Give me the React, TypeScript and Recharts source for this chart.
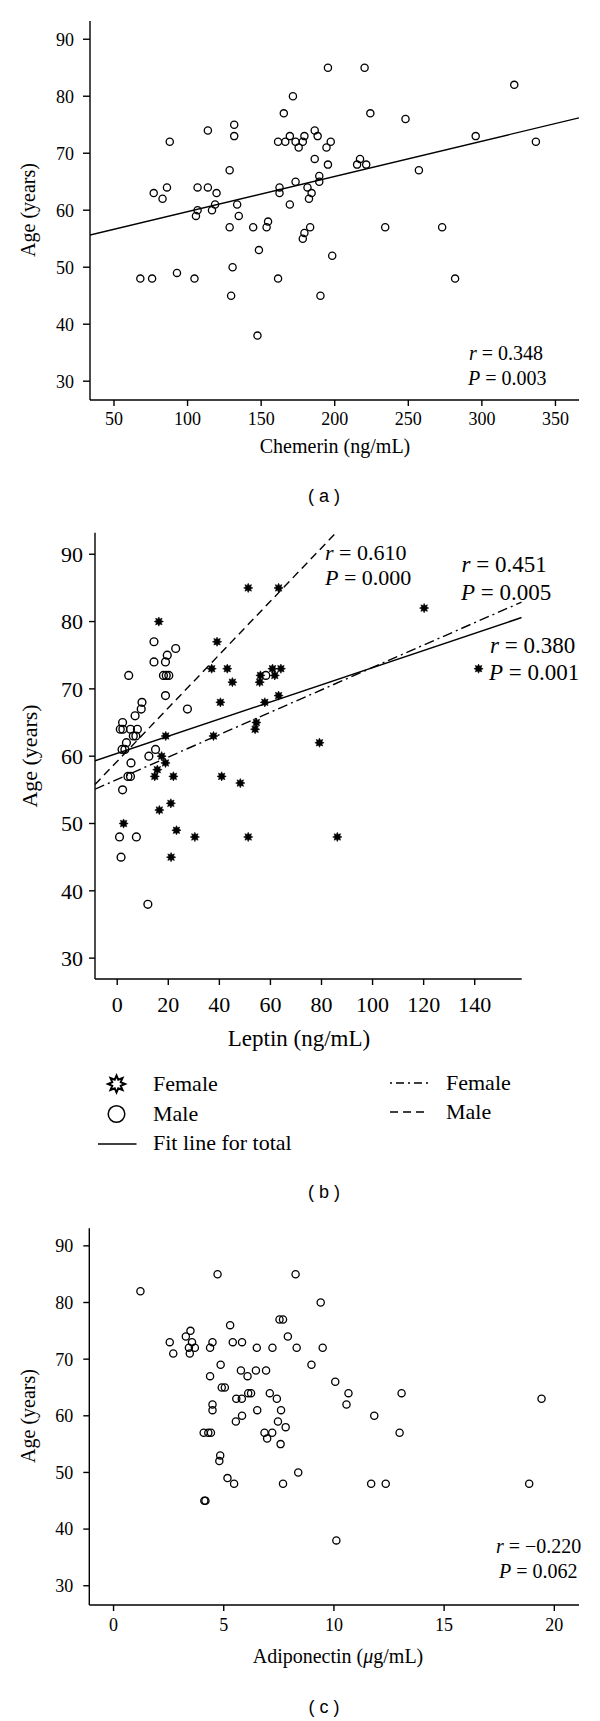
import React from "react";
import { ScatterChart, Scatter, XAxis, YAxis, ReferenceLine } from "recharts";

const serif = "'Liberation Serif', 'Times New Roman', serif";
const sans = "'Liberation Sans', Arial, sans-serif";

// ---------- Panel (a): Chemerin ----------
const chemerinX = [67.9, 75.9, 77, 83, 86, 87.9, 92.8, 104.7, 105.7, 106.8, 106.8, 113.8, 113.8, 116.6, 118.7, 119.7, 128.6, 128.6, 129.6, 130.6, 131.7, 131.7, 133.7, 134.8, 144.6, 148.5, 147.5, 153.7, 154.7, 161.5, 161.5, 162.5, 162.5, 165.4, 166.4, 169.5, 169.5, 171.6, 173.4, 173.4, 175.5, 178.3, 179.4, 178.3, 179.4, 181.5, 182.5, 183.3, 184.3, 186.4, 186.4, 188.4, 189.5, 189.5, 190.3, 194.4, 195.4, 195.4, 197.3, 198.3, 215.2, 217.2, 220.3, 221.4, 224.2, 234.3, 248.1, 257.2, 273, 281.8, 295.8, 322, 336.7];
const chemerinAge = [48, 48, 63, 62, 64, 72, 49, 48, 59, 60, 64, 74, 64, 60, 61, 63, 67, 57, 45, 50, 75, 73, 61, 59, 57, 53, 38, 57, 58, 72, 48, 64, 63, 77, 72, 73, 61, 80, 72, 65, 71, 55, 56, 72, 73, 64, 62, 57, 63, 74, 69, 73, 66, 65, 45, 71, 85, 68, 72, 52, 68, 69, 85, 68, 77, 57, 76, 67, 57, 48, 73, 82, 72];
const chemerinTicks = [50, 100, 150, 200, 250, 300, 350];
const chemerinDomain = [33.7, 366];
const fitChemerinX = [33.7, 366];
const fitChemerinY = [55.65, 76.2];

// ---------- Panel (b): Leptin ----------
const maleLeptin = [0.9, 1.5, 7.5, 2.1, 5.4, 4.2, 5.2, 1.9, 3.0, 3.6, 1.2, 2.2, 2.1, 5.2, 7.9, 6.3, 7.3, 7.0, 9.4, 9.7, 4.5, 12.4, 15.0, 14.4, 14.4, 18.9, 19.6, 18.1, 19.2, 20.2, 18.9, 22.9, 27.5, 58.2, 12.0];
const maleAge = [48, 45, 48, 55, 59, 57, 57, 61, 61, 62, 64, 64, 65, 64, 64, 63, 63, 66, 67, 68, 72, 60, 61, 74, 77, 74, 75, 72, 72, 72, 69, 76, 67, 72, 38];
const femaleLeptin = [16.3, 2.5, 14.7, 15.7, 17.4, 18.9, 19.0, 16.5, 21.0, 22.0, 23.2, 21.1, 30.4, 37.0, 37.7, 39.1, 40.4, 40.9, 43.1, 45.1, 48.2, 51.3, 51.3, 54.5, 54.0, 55.8, 56.1, 57.8, 60.8, 61.7, 63.2, 63.2, 64.1, 79.2, 86.2, 120.2, 141.5];
const femaleAge = [80, 50, 57, 58, 60, 59, 63, 52, 53, 57, 49, 45, 48, 73, 63, 77, 68, 57, 73, 71, 56, 85, 48, 65, 64, 71, 72, 68, 73, 72, 85, 69, 73, 62, 48, 82, 73];
const leptinTicks = [0, 20, 40, 60, 80, 100, 120, 140];
const leptinDomain = [-8.7, 158.4];
const fitTotalX = [-8.7, 158.4];
const fitTotalY = [59.3, 80.6];
const fitMaleX = [-8.7, 85.7];
const fitMaleY = [55.8, 93.2];
const fitFemaleX = [-8.7, 158.4];
const fitFemaleY = [55.1, 82.9];

// ---------- Panel (c): Adiponectin ----------
const adipoX = [1.22, 2.55, 2.71, 3.28, 3.49, 3.56, 3.42, 3.46, 3.69, 4.38, 4.49, 4.38, 4.49, 4.49, 4.09, 4.30, 4.42, 4.12, 4.17, 4.72, 4.86, 4.91, 5.05, 4.84, 4.80, 5.17, 5.47, 5.29, 5.41, 5.83, 5.78, 5.57, 5.82, 5.55, 5.83, 6.08, 6.11, 6.24, 6.46, 6.50, 6.52, 6.85, 6.97, 6.92, 7.09, 7.20, 7.21, 7.41, 7.46, 7.58, 7.60, 7.53, 7.69, 7.69, 7.81, 7.91, 8.26, 8.31, 8.38, 8.98, 9.40, 9.49, 10.06, 10.11, 10.57, 10.66, 11.69, 11.83, 12.35, 12.98, 13.07, 18.86, 19.42];
const adipoAge = [82, 73, 71, 74, 75, 73, 72, 71, 72, 72, 73, 67, 62, 61, 57, 57, 57, 45, 45, 85, 69, 65, 65, 53, 52, 49, 48, 76, 73, 73, 68, 63, 63, 59, 60, 67, 64, 64, 68, 72, 61, 57, 56, 68, 64, 57, 72, 63, 59, 55, 61, 77, 77, 48, 58, 74, 85, 72, 50, 69, 80, 72, 66, 38, 62, 64, 48, 60, 48, 57, 64, 48, 63];
const adipoTicks = [0, 5, 10, 15, 20];
const adipoDomain = [-1.1, 21.12];

const ageTicks = [30, 40, 50, 60, 70, 80, 90];

const zip = (xs: number[], ys: number[]) => xs.map((x, i) => ({ x, y: ys[i] }));

const chemerinData = zip(chemerinX, chemerinAge);
const maleData = zip(maleLeptin, maleAge);
const femaleData = zip(femaleLeptin, femaleAge);
const adipoData = zip(adipoX, adipoAge);

const starPoints = (cx: number, cy: number, n: number, R: number, r: number) => {
  const pts: string[] = [];
  for (let i = 0; i < 2 * n; i++) {
    const a = (i * Math.PI) / n - Math.PI / 2;
    const rr = i % 2 === 0 ? R : r;
    pts.push(`${cx + rr * Math.cos(a)},${cy + rr * Math.sin(a)}`);
  }
  return pts.join(" ");
};

const OpenCircle = (r: number, sw: number) => (props: any) => (
  <circle cx={props.cx} cy={props.cy} r={r} fill="none" stroke="#000" strokeWidth={sw} />
);
const FemaleStar = (props: any) => (
  <polygon points={starPoints(props.cx, props.cy, 8, 4.6, 2.6)} fill="#000" stroke="#000" strokeWidth={0.6} />
);

const axisStroke = { stroke: "#000", strokeWidth: 1.4 };

const seg = (xs: number[], ys: number[]) => [
  { x: xs[0], y: ys[0] },
  { x: xs[1], y: ys[1] },
];

const App = () => {
  const tickA = { fill: "#000", fontSize: 18, fontFamily: serif };
  const tickB = { fill: "#000", fontSize: 22, fontFamily: serif };
  return (
    <div style={{ position: "absolute", left: 0, top: 0, width: 600, height: 1721, background: "#fff" }}>
      {/* Panel A */}
      <div style={{ position: "absolute", left: 0, top: 0 }}>
        <ScatterChart width={600} height={440} margin={{ top: 21, right: 21, bottom: 10, left: 0 }}>
          <XAxis type="number" dataKey="x" domain={chemerinDomain} ticks={chemerinTicks} allowDataOverflow interval={0}
            height={30} tickSize={6} tickMargin={6} axisLine={axisStroke} tickLine={axisStroke} tick={tickA} />
          <YAxis type="number" dataKey="y" domain={[26.7, 93.2]} ticks={ageTicks} allowDataOverflow interval={0}
            width={90} tickSize={7} tickMargin={9} axisLine={axisStroke} tickLine={axisStroke} tick={tickA} />
          <ReferenceLine segment={seg(fitChemerinX, fitChemerinY)} stroke="#000" strokeWidth={1.4} ifOverflow="hidden" />
          <Scatter data={chemerinData} shape={OpenCircle(3.6, 1.3)} isAnimationActive={false} />
        </ScatterChart>
      </div>

      {/* Panel B */}
      <div style={{ position: "absolute", left: 0, top: 500 }}>
        <ScatterChart width={600} height={520} margin={{ top: 32.7, right: 78.3, bottom: 11, left: 0 }}>
          <XAxis type="number" dataKey="x" domain={leptinDomain} ticks={leptinTicks} allowDataOverflow interval={0}
            height={30} tickSize={6} tickMargin={11} axisLine={axisStroke} tickLine={axisStroke} tick={tickB} />
          <YAxis type="number" dataKey="y" domain={[26.9, 93.2]} ticks={ageTicks} allowDataOverflow interval={0}
            width={95} tickSize={6} tickMargin={6} axisLine={axisStroke} tickLine={axisStroke} tick={tickB} />
          <ReferenceLine segment={seg(fitTotalX, fitTotalY)} stroke="#000" strokeWidth={1.5} ifOverflow="hidden" />
          <ReferenceLine segment={seg(fitMaleX, fitMaleY)} stroke="#000" strokeWidth={1.4} strokeDasharray="8 5" ifOverflow="hidden" />
          <ReferenceLine segment={seg(fitFemaleX, fitFemaleY)} stroke="#000" strokeWidth={1.4} strokeDasharray="10 4 2 4" ifOverflow="hidden" />
          <Scatter data={maleData} shape={OpenCircle(3.9, 1.4)} isAnimationActive={false} />
          <Scatter data={femaleData} shape={FemaleStar} isAnimationActive={false} />
        </ScatterChart>
      </div>

      {/* Panel C */}
      <div style={{ position: "absolute", left: 0, top: 1200 }}>
        <ScatterChart width={600} height={440} margin={{ top: 28.3, right: 21, bottom: 5, left: 0 }}>
          <XAxis type="number" dataKey="x" domain={adipoDomain} ticks={adipoTicks} allowDataOverflow interval={0}
            height={30} tickSize={6} tickMargin={7} axisLine={axisStroke} tickLine={axisStroke} tick={tickA} />
          <YAxis type="number" dataKey="y" domain={[26.6, 93.1]} ticks={ageTicks} allowDataOverflow interval={0}
            width={89.3} tickSize={6} tickMargin={10} axisLine={axisStroke} tickLine={axisStroke} tick={tickA} />
          <Scatter data={adipoData} shape={OpenCircle(3.6, 1.3)} isAnimationActive={false} />
        </ScatterChart>
      </div>

      {/* Text overlay */}
      <svg width={600} height={1721} style={{ position: "absolute", left: 0, top: 0, pointerEvents: "none" }}>
        <g fontFamily={serif} fill="#000">
          {/* Panel A labels */}
          <text x={35} y={210} fontSize={20} textAnchor="middle" transform="rotate(-90 35 210)">Age (years)</text>
          <text x={335} y={453} fontSize={20} textAnchor="middle">Chemerin (ng/mL)</text>
          <text x={469} y={360} fontSize={20}><tspan fontStyle="italic">r</tspan> = 0.348</text>
          <text x={468} y={385} fontSize={20}><tspan fontStyle="italic">P</tspan> = 0.003</text>

          {/* Panel B labels */}
          <text x={37} y={756} fontSize={22} textAnchor="middle" transform="rotate(-90 37 756)">Age (years)</text>
          <text x={299} y={1046} fontSize={23} textAnchor="middle">Leptin (ng/mL)</text>
          <text x={325} y={559.5} fontSize={22}><tspan fontStyle="italic">r</tspan> = 0.610</text>
          <text x={325} y={584.5} fontSize={22}><tspan fontStyle="italic">P</tspan> = 0.000</text>
          <text x={461.5} y={571.7} fontSize={23}><tspan fontStyle="italic">r</tspan> = 0.451</text>
          <text x={461} y={600} fontSize={23}><tspan fontStyle="italic">P</tspan> = 0.005</text>
          <text x={490} y={653} fontSize={23}><tspan fontStyle="italic">r</tspan> = 0.380</text>
          <text x={489} y={680} fontSize={23}><tspan fontStyle="italic">P</tspan> = 0.001</text>

          {/* Legend B */}
          <polygon points={starPoints(116.5, 1084, 8, 8.5, 4.6)} fill="#fff" stroke="#000" strokeWidth={2} />
          <text x={153} y={1091} fontSize={22}>Female</text>
          <circle cx={116.5} cy={1114} r={8.3} fill="none" stroke="#000" strokeWidth={1.5} />
          <text x={153} y={1120.5} fontSize={22}>Male</text>
          <line x1={98} y1={1144} x2={136.5} y2={1144} stroke="#000" strokeWidth={1.5} />
          <text x={153} y={1150} fontSize={22}>Fit line for total</text>
          <line x1={390} y1={1083} x2={429} y2={1083} stroke="#000" strokeWidth={1.4} strokeDasharray="2 4 8 4" />
          <text x={446} y={1090} fontSize={22}>Female</text>
          <line x1={390} y1={1112} x2={429} y2={1112} stroke="#000" strokeWidth={1.4} strokeDasharray="8 5" />
          <text x={446} y={1118.5} fontSize={22}>Male</text>

          {/* Panel C labels */}
          <text x={35} y={1416} fontSize={20} textAnchor="middle" transform="rotate(-90 35 1416)">Age (years)</text>
          <text x={338} y={1663} fontSize={20} textAnchor="middle">Adiponectin (<tspan fontStyle="italic">μ</tspan>g/mL)</text>
          <text x={496} y={1553} fontSize={20}><tspan fontStyle="italic">r</tspan> = −0.220</text>
          <text x={499} y={1578} fontSize={20}><tspan fontStyle="italic">P</tspan> = 0.062</text>
        </g>
        <g fontFamily={sans} fill="#000" fontSize={18} textAnchor="middle">
          <text x={324} y={502}>( a )</text>
          <text x={324} y={1198}>( b )</text>
          <text x={324} y={1713}>( c )</text>
        </g>
      </svg>
    </div>
  );
};

export default App;
